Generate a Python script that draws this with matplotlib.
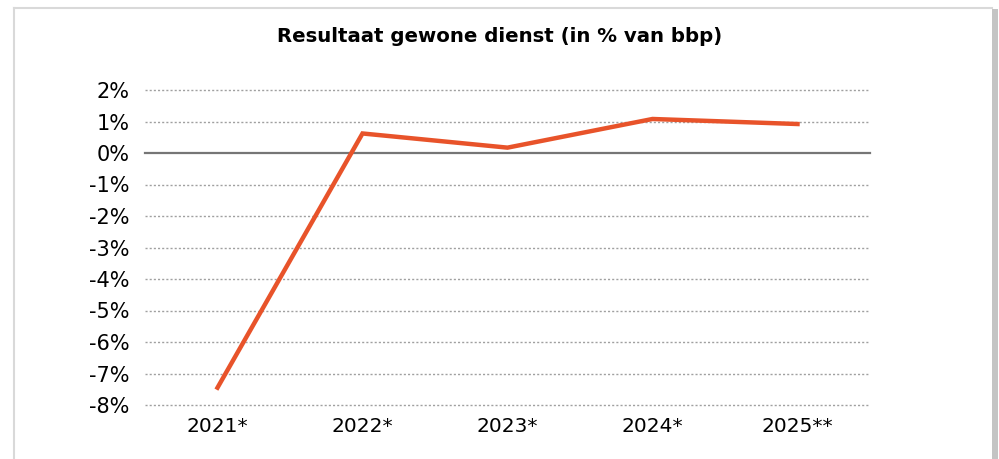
import matplotlib.pyplot as plt
from matplotlib.patches import Rectangle
from matplotlib.lines import Line2D

# data
years = ['2021*', '2022*', '2023*', '2024*', '2025**']
result_pct = [-7.45, 0.62, 0.17, 1.08, 0.92]
yticks = [2, 1, 0, -1, -2, -3, -4, -5, -6, -7, -8]
ytick_labels = [f'{v}%' for v in yticks]

W, H = 999, 459
fig = plt.figure(figsize=(W / 100, H / 100), dpi=100)

# outer frame like the screenshot
fig.add_artist(Line2D([13.5 / W, 13.5 / W], [0, 1 - 7.5 / H], color='#d9d9d9', lw=1.5,
                      transform=fig.transFigure))
fig.add_artist(Line2D([13.5 / W, 992 / W], [1 - 7.5 / H, 1 - 7.5 / H], color='#d9d9d9', lw=1.5,
                      transform=fig.transFigure))
fig.add_artist(Rectangle((992 / W, 0), 6 / W, 1 - 9 / H, facecolor='#c4c4c4', edgecolor='none',
                         transform=fig.transFigure))

ax = fig.add_axes([145 / W, 1 - 405 / H, 725 / W, 315 / H])

x = list(range(len(years)))
ax.plot(x, result_pct, color='#e8532a', lw=3.2, solid_joinstyle='miter', zorder=3)

ax.set_xlim(-0.5, len(years) - 0.5)
ax.set_ylim(-8, 2)
for v in yticks:
    if v == 0:
        ax.axhline(v, color='#767676', lw=1.6, zorder=2, clip_on=False)
    else:
        ax.axhline(v, color='#a0a0a0', lw=1.0, ls=(0, (1.5, 1.5)), zorder=1, clip_on=False)

ax.set_yticks(yticks)
ax.set_yticklabels(ytick_labels, fontsize=15)
ax.set_xticks(x)
ax.set_xticklabels(years, fontsize=14.5)
ax.tick_params(axis='both', length=0, colors='black')
ax.tick_params(axis='y', pad=11)
ax.tick_params(axis='x', pad=9)
for s in ax.spines.values():
    s.set_visible(False)

fig.text(500 / W, 1 - 37 / H, 'Resultaat gewone dienst (in % van bbp)', ha='center', va='center',
         fontsize=14.2, fontweight='bold')

fig.savefig('out.png', dpi=100)
